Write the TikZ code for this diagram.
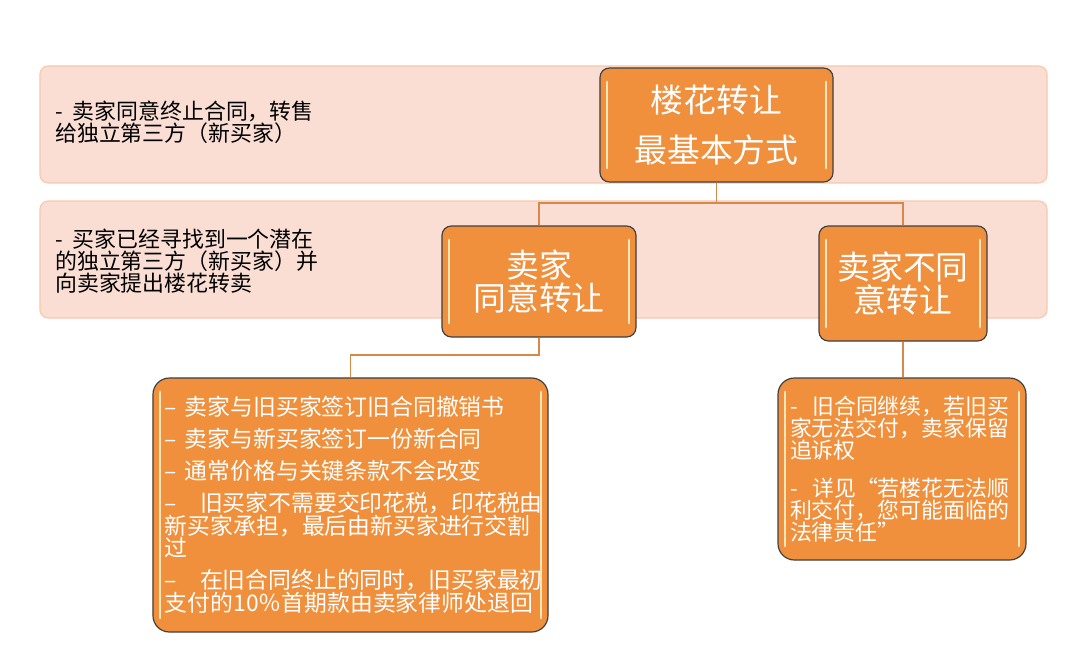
\documentclass[tikz,border=0pt]{standalone}
\usepackage{fontspec}
\setmainfont{Noto Sans CJK SC}
\usetikzlibrary{positioning}
\definecolor{bandfill}{HTML}{FADDD3}
\definecolor{bandline}{HTML}{F8C8AC}
\definecolor{boxfill}{HTML}{F0903C}
\definecolor{boxline}{HTML}{404040}
\definecolor{glosscol}{HTML}{FDE6B8}
\definecolor{linkcol}{HTML}{D8894A}

\begin{document}
\begin{tikzpicture}[x=0.03cm,y=-0.03cm,
  band/.style={draw=bandline,fill=bandfill,line width=1pt,rounded corners=7pt,minimum width=30.21cm,minimum height=3.51cm},
  note/.style={font=\fontsize{18.7}{18.7}\selectfont,align=left,inner sep=0pt,anchor=west},
  gloss/.style={path picture={
    \draw[glosscol,line width=2.5pt,line cap=round]
      ([xshift=6pt,yshift=-12pt]path picture bounding box.north west) -- ([xshift=6pt,yshift=12pt]path picture bounding box.south west)
      ([xshift=-6pt,yshift=-12pt]path picture bounding box.north east) -- ([xshift=-6pt,yshift=12pt]path picture bounding box.south east);}},
  box/.style={draw=boxline,fill=boxfill,line width=1pt,rounded corners=8pt,text=white,align=center,inner sep=0pt,gloss},
  head/.style={box,font=\fontsize{28}{28}\selectfont},
  detail/.style={box,rounded corners=14pt,align=left,inner ysep=0pt,inner xsep=0.36cm},
  link/.style={draw=linkcol,line width=1.6pt}]
\useasboundingbox (0,0) rectangle (1080,669);
% background bands
\node[band] (band1) at (543.5,124.5) {};
\node[band] (band2) at (543.5,259.5) {};
\node[note] (note1) at (55,122) {-\ \ 卖家同意终止合同，转售\\给独立第三方（新买家）};
\node[note] (note2) at (55,261) {-\ \ 买家已经寻找到一个潜在\\的独立第三方（新买家）并\\向卖家提出楼花转卖};
% main boxes
\node[head,minimum width=6.99cm,minimum height=3.42cm] (base) at (716.5,125) {楼花转让\\[14pt]最基本方式};
\node[head,minimum width=5.82cm,minimum height=3.33cm] (agree) at (539,281.5) {卖家\\同意转让};
\node[head,minimum width=5.04cm,minimum height=3.45cm] (refuse) at (903,283.5) {卖家不同\\意转让};
% detail boxes
\node[detail,text width=11.13cm,minimum height=7.62cm,font=\fontsize{19.5}{19.5}\selectfont] (agreedet) at (350.5,505)
  {–\ 卖家与旧买家签订旧合同撤销书\\[7.6pt]
   –\ 卖家与新买家签订一份新合同\\[7.6pt]
   –\ 通常价格与关键条款不会改变\\[7.6pt]
   –\ \ \ 旧买家不需要交印花税，印花税由\\新买家承担，最后由新买家进行交割\\过\\[7.6pt]
   –\ \ \ 在旧合同终止的同时，旧买家最初\\支付的10％首期款由卖家律师处退回};
\node[detail,text width=6.72cm,minimum height=5.46cm,font=\fontsize{18.7}{18.7}\selectfont] (refusedet) at (902,469)
  {-\ \ 旧合同继续，若旧买\\家无法交付，卖家保留\\追诉权\\[13.6pt]
   -\ \ 详见“若楼花无法顺\\利交付，您可能面临的\\法律责任”};
% connectors
\coordinate (fork) at (716.5,203);
\coordinate (fork2) at (539,355);
\draw[link] (base.south) -- (fork) -| (agree.north);
\draw[link] (fork) -| (refuse.north);
\draw[link] (agree.south) -- (fork2) -| (agreedet.north);
\draw[link] (refuse.south) -- (refuse.south |- refusedet.north);
\end{tikzpicture}
\end{document}
